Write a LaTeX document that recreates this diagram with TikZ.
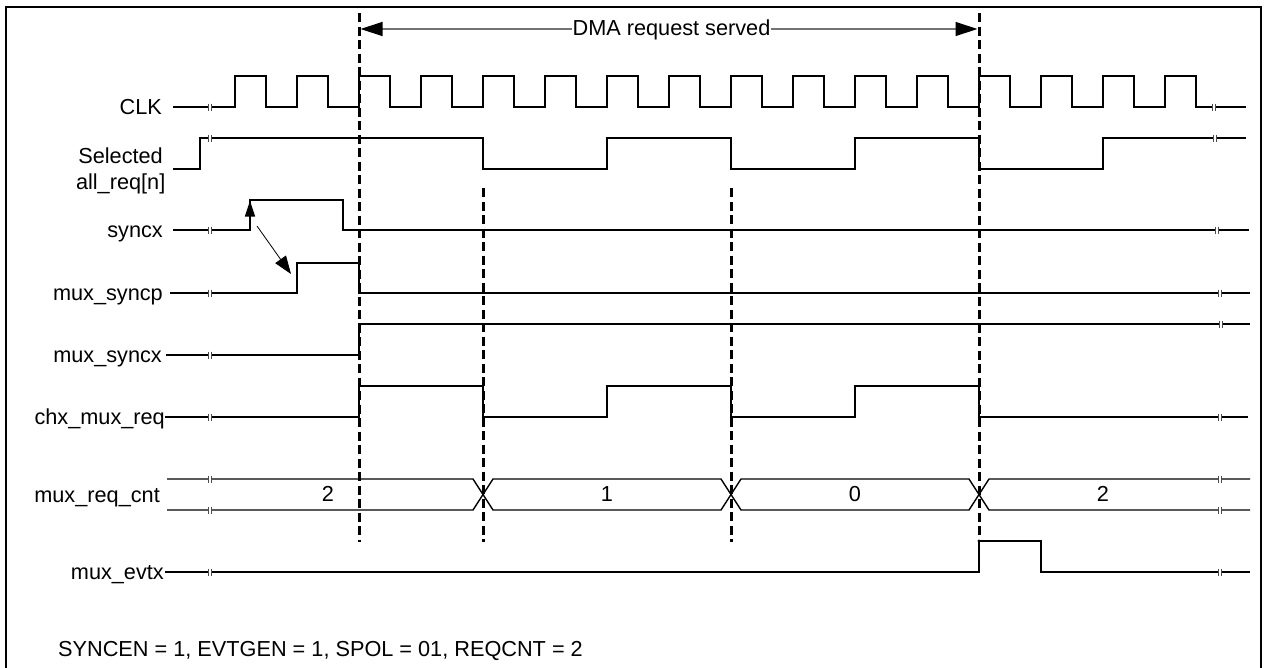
\documentclass[tikz,border=0pt]{standalone}
\usepackage{fontspec}
\setmainfont{Liberation Sans}
\usetikzlibrary{arrows.meta}
\newcommand\lblfont{\fontsize{21.7}{26}\selectfont}
\tikzset{
  sig/.style={line width=1.4pt, black},
  lbl/.style={anchor=base east, inner sep=0pt, font=\lblfont},
  val/.style={anchor=base, inner sep=0pt, font=\lblfont},
  guide/.style={line width=3pt, dash pattern=on 9pt off 4.5pt},
  brkmk/.style={line width=1pt, black!70},
}
\newcommand\brkmark[2]{%
  \fill[white] (#1-1.5,#2-3.5) rectangle (#1+1.5,#2+3.5);
  \draw[brkmk] (#1-1.8,#2-3.5)--(#1-1.8,#2+3.5) (#1+1.8,#2-3.5)--(#1+1.8,#2+3.5);}
\begin{document}
\begin{tikzpicture}[x=1pt,y=-1pt]
\useasboundingbox (0,0) rectangle (1267,667);
% frame
\draw[line width=2.4pt] (6,700) -- (6,7) -- (1261,7) -- (1261,700);

% labels
\node[lbl] (lclk) at (162,114.5) {CLK};
\node[lbl] (lsel1) at (163,163.3) {Selected};
\node[lbl] (lsel2) at (165.5,189.3) {all\_req[n]};
\node[lbl] (lsyncx) at (163,237.5) {syncx};
\node[lbl] (lsyncp) at (163,300.5) {mux\_syncp};
\node[lbl] (lmsyncx) at (162,362.5) {mux\_syncx};
\node[lbl] (lchx) at (165,424.5) {chx\_mux\_req};
\node[lbl] (lcnt) at (160,502) {mux\_req\_cnt};
\node[lbl] (levtx) at (164,579) {mux\_evtx};
\node[anchor=base west, inner sep=0pt, font=\lblfont] (cfg) at (58,656.7) {SYNCEN = 1, EVTGEN = 1, SPOL = 01, REQCNT = 2};

% CLK
\draw[sig] (173,107) \foreach \k in {-2,...,13} { -- ({359+62*\k},107) -- ({359+62*\k},76) -- ({390+62*\k},76) -- ({390+62*\k},107) } -- (1246,107);
\brkmark{210}{107}\brkmark{1214}{107}

% Selected all_req[n]
\draw[sig] (173,169) -- (200,169) -- (200,138) -- (483,138) -- (483,169) -- (607,169) -- (607,138) -- (731,138) -- (731,169) -- (855,169) -- (855,138) -- (979,138) -- (979,169) -- (1103,169) -- (1103,138) -- (1246,138);
\brkmark{210}{138}\brkmark{1215}{138}

% syncx
\draw[sig] (173,230) -- (250,230) -- (250,200) -- (343,200) -- (343,230) -- (1249,230);
\draw[sig, -{Triangle[length=16pt,width=10pt]}] (250,226) -- (250,200.6);
\draw[line width=0.8pt, -{Triangle[length=18pt,width=13pt]}] (257,226) -- (291,274);
\brkmark{210}{230}\brkmark{1217}{230}

% mux_syncp
\draw[sig] (170,293) -- (297,293) -- (297,263) -- (359,263) -- (359,293) -- (1250,293);
\brkmark{210}{293}\brkmark{1220}{293}

% mux_syncx
\draw[sig] (166,355) -- (359,355) -- (359,324) -- (1250,324);
\brkmark{210}{355}\brkmark{1221}{324}

% chx_mux_req
\draw[sig] (165,417) -- (359,417) -- (359,386) -- (483,386) -- (483,417) -- (607,417) -- (607,386) -- (731,386) -- (731,417) -- (855,417) -- (855,386) -- (979,386) -- (979,417) -- (1248,417);
\brkmark{210}{417}\brkmark{1220}{417}

% mux_req_cnt
\draw[sig] (167,479) -- (473,479) -- (493,510) -- (721,510) -- (741,479) -- (969,479) -- (989,510) -- (1250,510);
\draw[sig] (167,510) -- (473,510) -- (493,479) -- (721,479) -- (741,510) -- (969,510) -- (989,479) -- (1250,479);
\brkmark{210}{479}\brkmark{210}{510}\brkmark{1220}{479}\brkmark{1220}{510}
\node[val] (v1) at (328,501) {2};
\node[val] (v2) at (607,501) {1};
\node[val] (v3) at (855,501) {0};
\node[val] (v4) at (1103,501) {2};

% mux_evtx
\draw[sig] (165,572) -- (979,572) -- (979,541) -- (1041,541) -- (1041,572) -- (1250,572);
\brkmark{210}{572}\brkmark{1220}{572}

% guides
\coordinate (g1t) at (359,13); \coordinate (g1b) at (359,542);
\coordinate (g2t) at (483,188); \coordinate (g2b) at (483,542);
\coordinate (g3t) at (731,188); \coordinate (g3b) at (731,542);
\coordinate (g4t) at (979,13); \coordinate (g4b) at (979,541);
\draw[guide] (g1t) -- (g1b);
\draw[guide] (g2t) -- (g2b);
\draw[guide] (g3t) -- (g3b);
\draw[guide] (g4t) -- (g4b);
\fill (g4b) circle (1.6pt);

% DMA request served
\coordinate (da) at (360.5,29);
\coordinate (db) at (977.5,29);
\draw[line width=1.3pt, black!55, {Triangle[length=22pt,width=14pt,color=black]}-{Triangle[length=22pt,width=14pt,color=black]}] (da) -- (db);
\node[fill=white, inner xsep=0.5pt, inner ysep=2pt, anchor=base, font=\lblfont] (dma) at (671.5,35) {DMA request served};
\end{tikzpicture}
\end{document}
